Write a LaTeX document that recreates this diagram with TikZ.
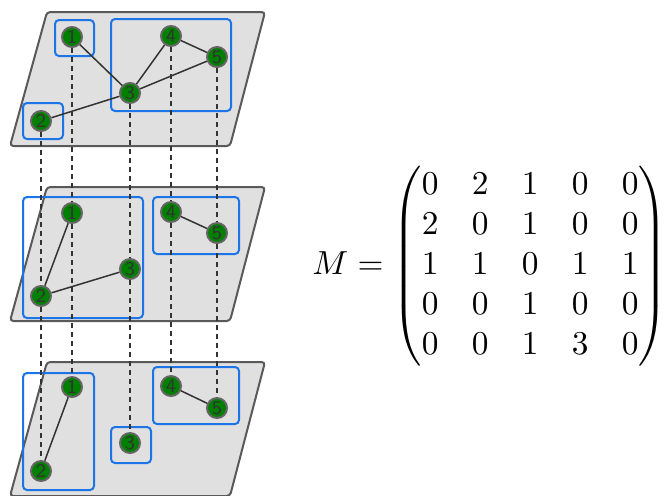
\documentclass[tikz,border=0pt]{standalone}
\usepackage{amsmath}
\usepackage{xcolor}
\usepackage{tikz}
\usetikzlibrary{positioning}
\definecolor{boxblue}{RGB}{28,117,230}
\definecolor{nodegreen}{RGB}{0,128,0}

\begin{document}
\begin{tikzpicture}[x=0.3pt, y=-0.3pt,
    plane/.style={draw=black!65, fill=black!12, line width=0.6pt, rounded corners=1pt},
    group/.style={draw=boxblue, line width=0.6pt, rounded corners=1.2pt},
    vertex/.style={circle, draw=black!60, fill=nodegreen, line width=0.6pt, minimum size=6pt, inner sep=0pt, text=black!80, font=\sffamily\fontsize{5.8}{6}\selectfont},
    link/.style={draw=black!80, line width=0.45pt},
    layer/.style={draw=black!80, line width=0.4pt, dash pattern=on 1.5pt off 1.2pt}]

    \useasboundingbox (0,0) rectangle (669,495);

    % planes
    \path [plane] (47,12) -- (265,12) -- (230,146) -- (10,146) -- cycle;
    \path [plane] (47,187) -- (265,187) -- (230,321) -- (10,321) -- cycle;
    \path [plane] (47,362) -- (265,362) -- (230,496) -- (10,496) -- cycle;

    % communities
    \path [group] (55,20) rectangle (94,56);
    \path [group] (111,19) rectangle (231,111);
    \path [group] (23,103) rectangle (63,139);
    \path [group] (23,197) rectangle (143,318);
    \path [group] (153,197) rectangle (239,254);
    \path [group] (23,373) rectangle (94,490);
    \path [group] (111,427) rectangle (151,463);
    \path [group] (153,367) rectangle (239,424);

    \node [vertex] (top1) at (72,37) {1};
    \node [vertex] (top2) at (41,121) {2};
    \node [vertex] (top3) at (130,93) {3};
    \node [vertex] (top4) at (171,36) {4};
    \node [vertex] (top5) at (217,57) {5};

    \node [vertex] (mid1) at (72,213) {1};
    \node [vertex] (mid2) at (41,296) {2};
    \node [vertex] (mid3) at (130,269) {3};
    \node [vertex] (mid4) at (171,212) {4};
    \node [vertex] (mid5) at (217,233) {5};

    \node [vertex] (bot1) at (72,387) {1};
    \node [vertex] (bot2) at (41,471) {2};
    \node [vertex] (bot3) at (130,443) {3};
    \node [vertex] (bot4) at (171,386) {4};
    \node [vertex] (bot5) at (217,408) {5};

    \path [layer] (top1) -- (mid1) -- (bot1);
    \path [layer] (top2) -- (mid2) -- (bot2);
    \path [layer] (top3) -- (mid3) -- (bot3);
    \path [layer] (top4) -- (mid4) -- (bot4);
    \path [layer] (top5) -- (mid5) -- (bot5);

    \path [link] (top1) -- (top3);
    \path [link] (top2) -- (top3);
    \path [link] (top3) -- (top4);
    \path [link] (top3) -- (top5);
    \path [link] (top4) -- (top5);

    \path [link] (mid1) -- (mid2);
    \path [link] (mid2) -- (mid3);
    \path [link] (mid4) -- (mid5);

    \path [link] (bot1) -- (bot2);
    \path [link] (bot4) -- (bot5);

    \node (adjacency) at (490,266) {$M = \begin{pmatrix}
        0 & 2 & 1 & 0 & 0\\
        2 & 0 & 1 & 0 & 0\\
        1 & 1 & 0 & 1 & 1\\
        0 & 0 & 1 & 0 & 0\\
        0 & 0 & 1 & 3 & 0
    \end{pmatrix}$};
\end{tikzpicture}
\end{document}
